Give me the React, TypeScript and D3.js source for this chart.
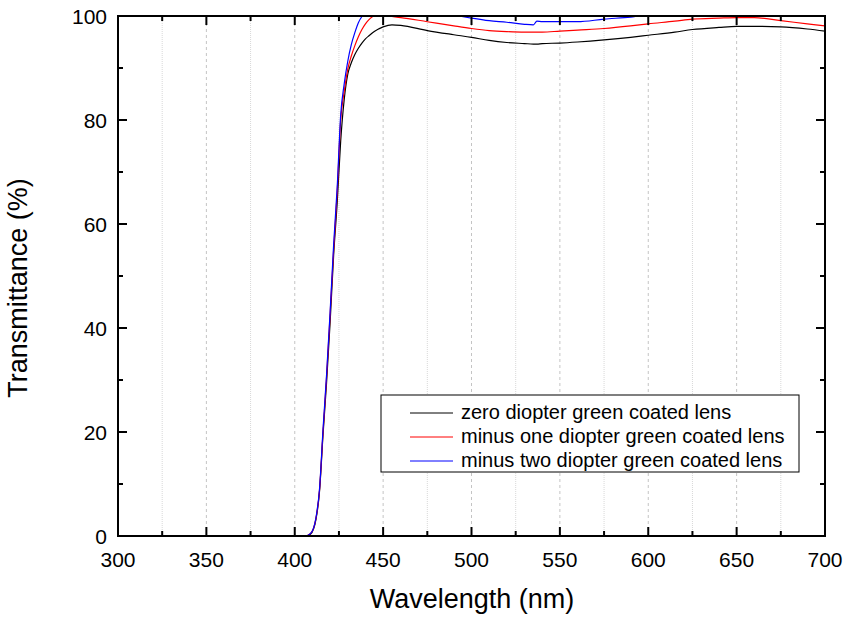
import React, { useEffect } from "react";
import * as d3 from "d3";

// wavelength (nm) sample points
const wavelengths = [
  300, 406, 409, 412, 414, 416, 418, 420, 422, 424, 426, 428, 430, 432, 434, 436, 438, 440, 442, 445,
  450, 455, 460, 475, 490, 500, 510, 520, 530, 535, 537, 540, 550, 560, 575, 590, 600, 615, 625, 640,
  650, 660, 675, 690, 700,
];

const zeroDiopter = [
  0, 0, 0.4, 3.2, 8.5, 19.5, 29.5, 41, 54, 64, 76, 84, 88.8, 91, 92.6, 93.8, 94.8, 95.6, 96.2, 97,
  97.9, 98.3, 98.2, 97.2, 96.4, 95.9, 95.3, 94.9, 94.7, 94.6, 94.6, 94.7, 94.8, 95.0, 95.4, 95.9, 96.3, 96.9, 97.4, 97.8,
  98.0, 98.0, 97.9, 97.5, 97.1,
];

const minusOne = [
  0, 0, 0.5, 3.4, 8.8, 20, 30.5, 42.5, 55, 66, 80, 85.5, 89.8, 92.3, 94.3, 96, 97.4, 98.5, 99.3, 100,
  100.1, 99.9, 99.7, 98.9, 98.1, 97.6, 97.2, 97.0, 96.9, 96.9, 96.9, 96.9, 97.1, 97.3, 97.6, 98.1, 98.5, 99.0, 99.4, 99.6,
  99.7, 99.7, 99.1, 98.5, 98.1,
];

const minusTwo = [
  0, 0, 0.5, 3.5, 9, 20.5, 31, 43, 56, 67, 81, 87, 91.3, 94.5, 96.8, 98.7, 99.9, 100.6, 101, 101.5,
  101.8, 101.8, 101.6, 101, 100.2, 99.6, 99.1, 98.8, 98.4, 98.3, 99.0, 98.9, 98.9, 98.9, 99.4, 99.8, 100.2, 100.8, 101, 101.2,
  101.3, 101.3, 101.2, 101, 100.8,
];

const seriesNames = [
  "zero diopter green coated lens",
  "minus one diopter green coated lens",
  "minus two diopter green coated lens",
];
const seriesColors = ["#000000", "#ff0000", "#0000ff"];
const seriesValues = [zeroDiopter, minusOne, minusTwo];

const xMajor = [300, 350, 400, 450, 500, 550, 600, 650, 700];
const xMinor = [325, 375, 425, 475, 525, 575, 625, 675];
const yMajor = [0, 20, 40, 60, 80, 100];
const yMinor = [10, 30, 50, 70, 90];

const W = 847;
const H = 617;
const margin = { left: 118, right: 22, top: 16, bottom: 81 };
const font = "'Liberation Sans', Arial, sans-serif";

export default function App() {
  useEffect(() => {
    document.body.style.margin = "0";
  }, []);

  const x = d3.scaleLinear().domain([300, 700]).range([margin.left, W - margin.right]);
  const y = d3.scaleLinear().domain([0, 100]).range([H - margin.bottom, margin.top]);
  const x0 = x.range()[0], x1 = x.range()[1];
  const y0 = y.range()[0], y1 = y.range()[1];

  const line = d3
    .line<number>()
    .curve(d3.curveMonotoneX)
    .x((d, i) => x(wavelengths[i]))
    .y((d) => y(d));

  const legX = 381, legY = 395, legW = 418, legH = 77;

  return (
    <svg width={W} height={H} style={{ display: "block", background: "#fff" }} fontFamily={font}>
      <defs>
        <clipPath id="plot">
          <rect x={x0} y={y1} width={x1 - x0} height={y0 - y1} />
        </clipPath>
      </defs>

      {/* grid */}
      {xMajor.slice(1, -1).map((v) => (
        <line key={"gM" + v} x1={x(v)} x2={x(v)} y1={y0} y2={y1} stroke="#c4c4c4" strokeDasharray="3,3" />
      ))}
      {xMinor.map((v) => (
        <line key={"gm" + v} x1={x(v)} x2={x(v)} y1={y0} y2={y1} stroke="#d8d8d8" strokeDasharray="1,1" />
      ))}

      {/* curves */}
      <g clipPath="url(#plot)">
        {seriesValues.map((vals, i) => (
          <path key={i} d={line(vals) || ""} fill="none" stroke={seriesColors[i]} strokeWidth={1.2} />
        ))}
      </g>

      {/* frame */}
      <rect x={x0} y={y1} width={x1 - x0} height={y0 - y1} fill="none" stroke="#000" strokeWidth={2} />

      {/* ticks, inward on all sides */}
      {xMajor.map((v) => (
        <g key={"tx" + v}>
          <line x1={x(v)} x2={x(v)} y1={y0} y2={y0 - 9} stroke="#000" strokeWidth={2} />
          <line x1={x(v)} x2={x(v)} y1={y1} y2={y1 + 9} stroke="#000" strokeWidth={2} />
          <text x={x(v)} y={y0 + 31} textAnchor="middle" fontSize={21}>{v}</text>
        </g>
      ))}
      {xMinor.map((v) => (
        <g key={"tmx" + v}>
          <line x1={x(v)} x2={x(v)} y1={y0} y2={y0 - 5} stroke="#000" strokeWidth={2} />
          <line x1={x(v)} x2={x(v)} y1={y1} y2={y1 + 5} stroke="#000" strokeWidth={2} />
        </g>
      ))}
      {yMajor.map((v) => (
        <g key={"ty" + v}>
          <line x1={x0} x2={x0 + 9} y1={y(v)} y2={y(v)} stroke="#000" strokeWidth={2} />
          <line x1={x1} x2={x1 - 9} y1={y(v)} y2={y(v)} stroke="#000" strokeWidth={2} />
          <text x={x0 - 11} y={y(v) + 7.5} textAnchor="end" fontSize={21}>{v}</text>
        </g>
      ))}
      {yMinor.map((v) => (
        <g key={"tmy" + v}>
          <line x1={x0} x2={x0 + 5} y1={y(v)} y2={y(v)} stroke="#000" strokeWidth={2} />
          <line x1={x1} x2={x1 - 5} y1={y(v)} y2={y(v)} stroke="#000" strokeWidth={2} />
        </g>
      ))}

      {/* axis titles */}
      <text x={472} y={608} textAnchor="middle" fontSize={27}>Wavelength (nm)</text>
      <text transform={`translate(27,288) rotate(-90)`} textAnchor="middle" fontSize={27}>
        Transmittance (%)
      </text>

      {/* legend */}
      <rect x={legX} y={legY} width={legW} height={legH} fill="#fff" stroke="#000" strokeWidth={1} />
      {seriesNames.map((name, i) => (
        <g key={name}>
          <line x1={410} x2={453} y1={legY + 18 + i * 24} y2={legY + 18 + i * 24} stroke={seriesColors[i]} strokeWidth={1} />
          <text x={461} y={legY + 24 + i * 24} fontSize={20}>{name}</text>
        </g>
      ))}
    </svg>
  );
}
